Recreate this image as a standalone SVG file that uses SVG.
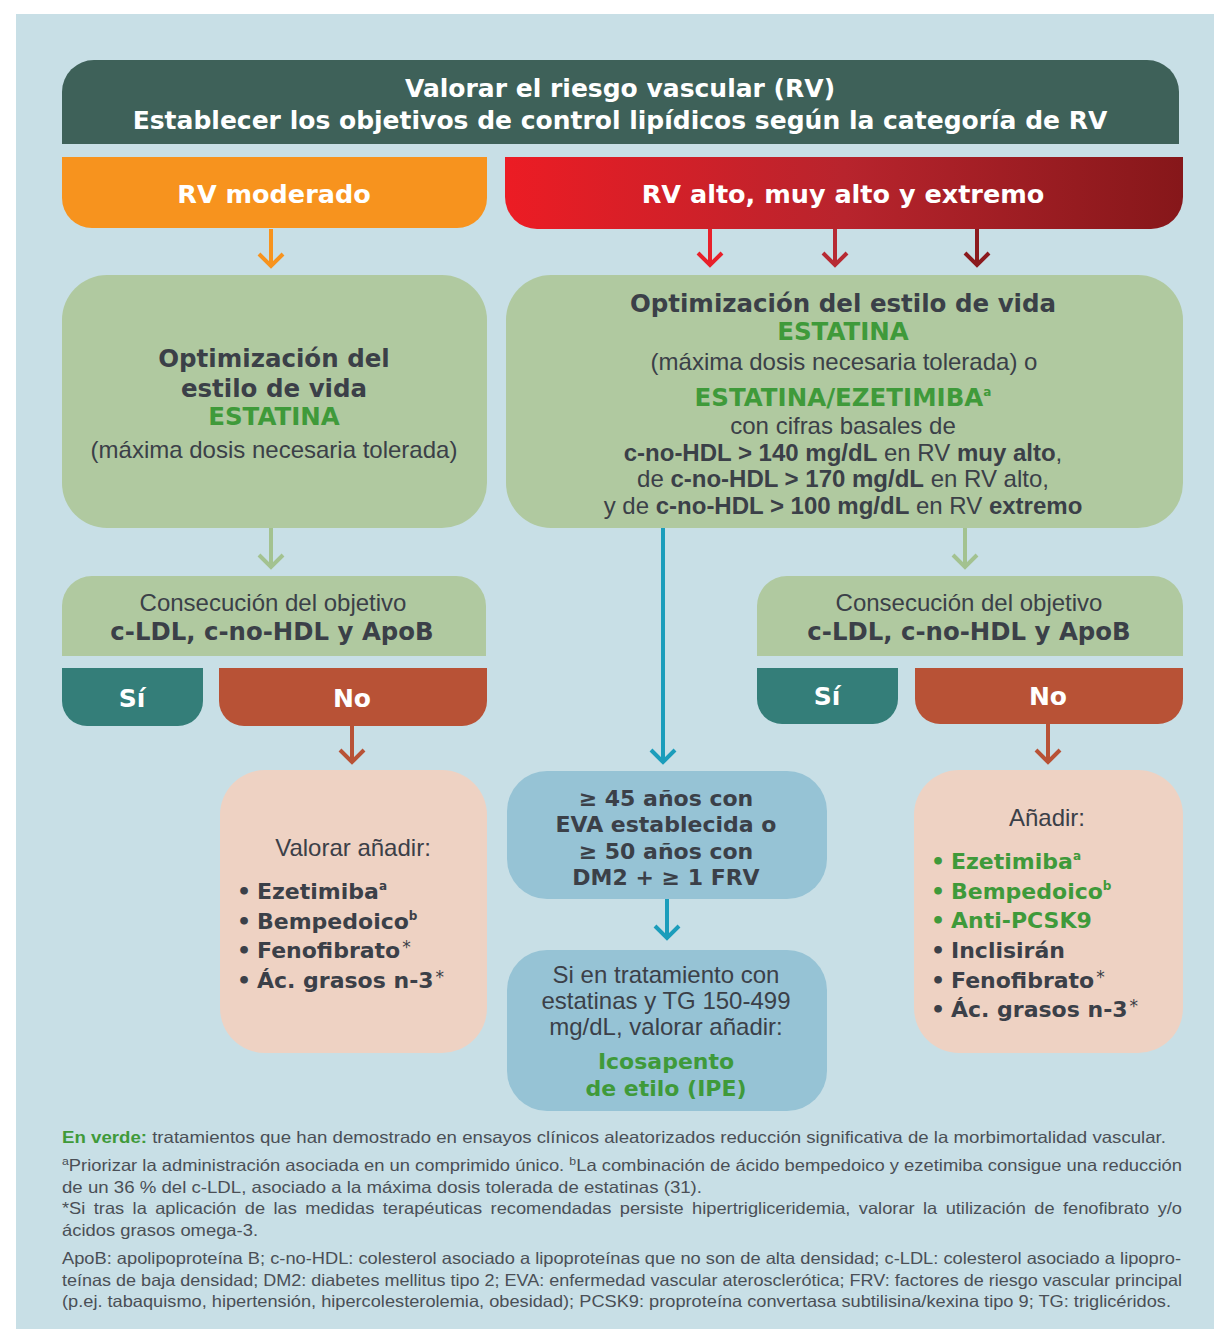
<svg xmlns="http://www.w3.org/2000/svg" width="1214" height="1329" viewBox="0 0 1214 1329">
<defs>
<linearGradient id="redGrad" x1="0" y1="0" x2="1" y2="0">
<stop offset="0" stop-color="#ec1c24"/>
<stop offset="0.5" stop-color="#b8242d"/>
<stop offset="1" stop-color="#86171a"/>
</linearGradient>
<style>
.f{font-family:"DejaVu Sans",Lato,sans-serif;font-weight:700}
.r{font-family:"Liberation Sans",Arial,sans-serif}
.w{fill:#ffffff}
.d{fill:#3b4048}
.g{fill:#3f9a3a}
.fn{font-family:"Liberation Sans",Arial,sans-serif;font-size:16.5px;fill:#4a4f56}
.arr{fill:none;stroke-width:4;stroke-linecap:butt;stroke-linejoin:miter}
.sup{font-size:12px}
.ast{font-size:17px;font-weight:400}
</style>
</defs>
<rect x="0" y="0" width="1214" height="1329" fill="#ffffff"/>
<rect x="16" y="14" width="1198" height="1315" fill="#c8dfe6"/>

<g id="header">
<path d="M62,144 V92 A32,32 0 0 1 94,60 H1147 A32,32 0 0 1 1179,92 V144 Z" fill="#3e6159"/>
<text class="f w" x="620" y="97" font-size="25" text-anchor="middle">Valorar el riesgo vascular (RV)</text>
<text class="f w" x="620" y="129" font-size="25" text-anchor="middle">Establecer los objetivos de control lipídicos según la categoría de RV</text>
</g>

<g id="rv-moderado">
<path d="M62,157 H487 V198 A30,30 0 0 1 457,228 H92 A30,30 0 0 1 62,198 Z" fill="#f7931e"/>
<text class="f w" x="274" y="203" font-size="25.5" text-anchor="middle">RV moderado</text>
</g>

<g id="rv-alto">
<path d="M505,157 H1183 V197 A32,32 0 0 1 1151,229 H537 A32,32 0 0 1 505,197 Z" fill="url(#redGrad)"/>
<text class="f w" x="843" y="203" font-size="25.5" text-anchor="middle">RV alto, muy alto y extremo</text>
</g>

<g id="opt-left">
<rect x="62" y="275" width="425" height="253" rx="45" fill="#b0c9a0"/>
<text class="f d" x="274" y="367" font-size="24.5" text-anchor="middle">Optimización del</text>
<text class="f d" x="274" y="397" font-size="24.5" text-anchor="middle">estilo de vida</text>
<text class="f g" x="274" y="425" font-size="24.5" text-anchor="middle">ESTATINA</text>
<text class="r d" x="274" y="458" font-size="24" text-anchor="middle">(máxima dosis necesaria tolerada)</text>
</g>

<g id="opt-right">
<rect x="506" y="275" width="677" height="253" rx="45" fill="#b0c9a0"/>
<text class="f d" x="843" y="312" font-size="24.5" text-anchor="middle">Optimización del estilo de vida</text>
<text class="f g" x="843" y="340" font-size="24.5" text-anchor="middle">ESTATINA</text>
<text class="r d" x="844" y="370" font-size="24" text-anchor="middle">(máxima dosis necesaria tolerada) o</text>
<text class="f g" x="843" y="406" font-size="24.5" text-anchor="middle">ESTATINA/EZETIMIBA<tspan class="sup" dy="-10">a</tspan></text>
<text class="r d" x="843" y="434" font-size="24" text-anchor="middle">con cifras basales de</text>
<text class="r d" x="843" y="461" font-size="24" text-anchor="middle"><tspan font-weight="700">c-no-HDL &gt; 140 mg/dL</tspan> en RV <tspan font-weight="700">muy alto</tspan>,</text>
<text class="r d" x="843" y="487" font-size="24" text-anchor="middle">de <tspan font-weight="700">c-no-HDL &gt; 170 mg/dL</tspan> en RV alto,</text>
<text class="r d" x="843" y="514" font-size="24" text-anchor="middle">y de <tspan font-weight="700">c-no-HDL &gt; 100 mg/dL</tspan> en RV <tspan font-weight="700">extremo</tspan></text>
</g>

<g id="objetivo-left">
<path d="M62,656 V606 A30,30 0 0 1 92,576 H456 A30,30 0 0 1 486,606 V656 Z" fill="#b0c9a0"/>
<text class="r d" x="273" y="611" font-size="24" text-anchor="middle">Consecución del objetivo</text>
<text class="f d" x="272" y="640" font-size="24.4" text-anchor="middle">c-LDL, c-no-HDL y ApoB</text>
</g>

<g id="si-left">
<path d="M62,668 H203 V701 A25,25 0 0 1 178,726 H87 A25,25 0 0 1 62,701 Z" fill="#347e79"/>
<text class="f w" x="132" y="707" font-size="25" text-anchor="middle">Sí</text>
</g>

<g id="no-left">
<path d="M219,668 H487 V701 A25,25 0 0 1 462,726 H244 A25,25 0 0 1 219,701 Z" fill="#b85236"/>
<text class="f w" x="352" y="707" font-size="25" text-anchor="middle">No</text>
</g>

<g id="objetivo-right">
<path d="M757,656 V606 A30,30 0 0 1 787,576 H1153 A30,30 0 0 1 1183,606 V656 Z" fill="#b0c9a0"/>
<text class="r d" x="969" y="611" font-size="24" text-anchor="middle">Consecución del objetivo</text>
<text class="f d" x="969" y="640" font-size="24.4" text-anchor="middle">c-LDL, c-no-HDL y ApoB</text>
</g>

<g id="si-right">
<path d="M757,668 H898 V699 A25,25 0 0 1 873,724 H782 A25,25 0 0 1 757,699 Z" fill="#347e79"/>
<text class="f w" x="827" y="705" font-size="25" text-anchor="middle">Sí</text>
</g>

<g id="no-right">
<path d="M915,668 H1183 V699 A25,25 0 0 1 1158,724 H940 A25,25 0 0 1 915,699 Z" fill="#b85236"/>
<text class="f w" x="1048" y="705" font-size="25" text-anchor="middle">No</text>
</g>

<g id="valorar-left">
<rect x="220" y="770" width="267" height="283" rx="45" fill="#eed2c3"/>
<text class="r d" x="353" y="856" font-size="24" text-anchor="middle">Valorar añadir:</text>
<text class="f d" x="237" y="899" font-size="22">•<tspan x="257">Ezetimiba</tspan><tspan class="sup" dy="-9">a</tspan></text>
<text class="f d" x="237" y="929" font-size="22">•<tspan x="257">Bempedoico</tspan><tspan class="sup" dy="-9">b</tspan></text>
<text class="f d" x="237" y="958" font-size="22">•<tspan x="257">Fenofibrato</tspan><tspan class="ast" dx="2" dy="-5">*</tspan></text>
<text class="f d" x="237" y="988" font-size="22">•<tspan x="257">Ác. grasos n-3</tspan><tspan class="ast" dx="2" dy="-5">*</tspan></text>
</g>

<g id="anadir-right">
<rect x="914" y="770" width="269" height="283" rx="45" fill="#eed2c3"/>
<text class="r d" x="1047" y="826" font-size="24" text-anchor="middle">Añadir:</text>
<text class="f g" x="931" y="869" font-size="22">•<tspan x="951">Ezetimiba</tspan><tspan class="sup" dy="-9">a</tspan></text>
<text class="f g" x="931" y="899" font-size="22">•<tspan x="951">Bempedoico</tspan><tspan class="sup" dy="-9">b</tspan></text>
<text class="f g" x="931" y="928" font-size="22">•<tspan x="951">Anti-PCSK9</tspan></text>
<text class="f d" x="931" y="958" font-size="22">•<tspan x="951">Inclisirán</tspan></text>
<text class="f d" x="931" y="988" font-size="22">•<tspan x="951">Fenofibrato</tspan><tspan class="ast" dx="2" dy="-5">*</tspan></text>
<text class="f d" x="931" y="1017" font-size="22">•<tspan x="951">Ác. grasos n-3</tspan><tspan class="ast" dx="2" dy="-5">*</tspan></text>
</g>

<g id="edad">
<rect x="507" y="771" width="320" height="128" rx="40" fill="#96c3d5"/>
<text class="f d" x="666" y="806" font-size="22" text-anchor="middle">≥ 45 años con</text>
<text class="f d" x="666" y="832" font-size="22" text-anchor="middle">EVA establecida o</text>
<text class="f d" x="666" y="859" font-size="22" text-anchor="middle">≥ 50 años con</text>
<text class="f d" x="666" y="885" font-size="22" text-anchor="middle">DM2 + ≥ 1 FRV</text>
</g>

<g id="ipe">
<rect x="507" y="950" width="320" height="161" rx="40" fill="#96c3d5"/>
<text class="r d" x="666" y="983" font-size="24" text-anchor="middle">Si en tratamiento con</text>
<text class="r d" x="666" y="1009" font-size="24" text-anchor="middle">estatinas y TG 150-499</text>
<text class="r d" x="666" y="1035" font-size="24" text-anchor="middle">mg/dL, valorar añadir:</text>
<text class="f g" x="666" y="1069" font-size="22" text-anchor="middle">Icosapento</text>
<text class="f g" x="666" y="1096" font-size="22" text-anchor="middle">de etilo (IPE)</text>
</g>

<g id="connectors">
<path class="arr" stroke="#f7931e" d="M271,229 V266 M259,254 L271,266 L283,254"/>
<path class="arr" stroke="#e8202a" d="M710,229 V265 M698,253 L710,265 L722,253"/>
<path class="arr" stroke="#b72a33" d="M835,229 V265 M823,253 L835,265 L847,253"/>
<path class="arr" stroke="#8b1a1e" d="M977,229 V265 M965,253 L977,265 L989,253"/>
<path class="arr" stroke="#a3c290" d="M271,528 V567 M259,555 L271,567 L283,555"/>
<path class="arr" stroke="#a3c290" d="M965,528 V567 M953,555 L965,567 L977,555"/>
<path class="arr" stroke="#1b9dbb" d="M663,528 V762 M651,750 L663,762 L675,750"/>
<path class="arr" stroke="#b85236" d="M352,726 V762 M340,750 L352,762 L364,750"/>
<path class="arr" stroke="#b85236" d="M1048,724 V762 M1036,750 L1048,762 L1060,750"/>
<path class="arr" stroke="#1b9dbb" d="M667,899 V938 M655,926 L667,938 L679,926"/>
</g>

<g id="footnotes">
<text class="fn" x="62" y="1143" textLength="1104" lengthAdjust="spacingAndGlyphs"><tspan font-weight="700" fill="#3f9a3a">En verde:</tspan> tratamientos que han demostrado en ensayos clínicos aleatorizados reducción significativa de la morbimortalidad vascular.</text>
<text class="fn" x="62" y="1171" textLength="1120" lengthAdjust="spacingAndGlyphs"><tspan font-size="11" dy="-6">a</tspan><tspan dy="6">Priorizar la administración asociada en un comprimido único. </tspan><tspan font-size="11" dy="-6">b</tspan><tspan dy="6">La combinación de ácido bempedoico y ezetimiba consigue una reducción</tspan></text>
<text class="fn" x="62" y="1193" textLength="640" lengthAdjust="spacingAndGlyphs">de un 36 % del c-LDL, asociado a la máxima dosis tolerada de estatinas (31).</text>
<text class="fn" x="62" y="1214" textLength="1120" lengthAdjust="spacingAndGlyphs" word-spacing="3">*Si tras la aplicación de las medidas terapéuticas recomendadas persiste hipertrigliceridemia, valorar la utilización de fenofibrato y/o</text>
<text class="fn" x="62" y="1236" textLength="196" lengthAdjust="spacingAndGlyphs">ácidos grasos omega-3.</text>
<text class="fn" x="62" y="1264" textLength="1119" lengthAdjust="spacingAndGlyphs">ApoB: apolipoproteína B; c-no-HDL: colesterol asociado a lipoproteínas que no son de alta densidad; c-LDL: colesterol asociado a lipopro-</text>
<text class="fn" x="62" y="1286" textLength="1120" lengthAdjust="spacingAndGlyphs">teínas de baja densidad; DM2: diabetes mellitus tipo 2; EVA: enfermedad vascular aterosclerótica; FRV: factores de riesgo vascular principal</text>
<text class="fn" x="62" y="1307" textLength="1109" lengthAdjust="spacingAndGlyphs">(p.ej. tabaquismo, hipertensión, hipercolesterolemia, obesidad); PCSK9: proproteína convertasa subtilisina/kexina tipo 9; TG: triglicéridos.</text>
</g>
</svg>
